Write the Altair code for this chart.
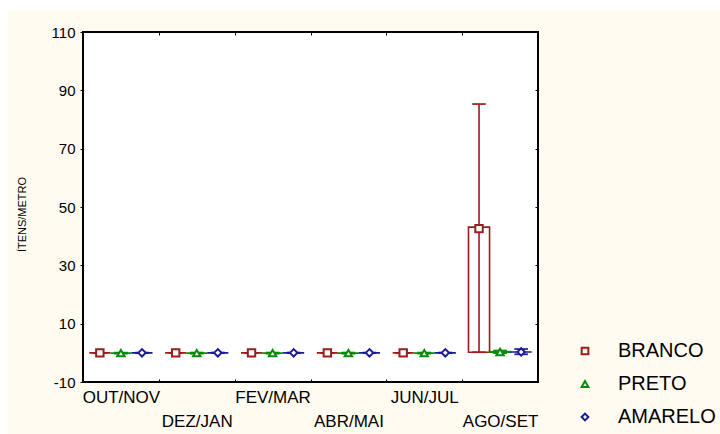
import altair as alt
import pandas as pd

categories = ["OUT/NOV", "DEZ/JAN", "FEV/MAR", "ABR/MAI", "JUN/JUL", "AGO/SET"]
series = ["BRANCO", "PRETO", "AMARELO"]
colors = ["#9B1C1C", "#0A8A0A", "#1A1A9A"]
shapes = ["square", "triangle-up", "diamond"]

# mean, box low/high, whisker low/high per category
branco_mean = [0.0, 0.0, 0.0, 0.0, 0.0, 42.6]
branco_box_lo = [0.0, 0.0, 0.0, 0.0, 0.0, 0.2]
branco_box_hi = [0.0, 0.0, 0.0, 0.0, 0.0, 43.1]
branco_wh_lo = [0.0, 0.0, 0.0, 0.0, 0.0, 0.2]
branco_wh_hi = [0.0, 0.0, 0.0, 0.0, 0.0, 85.3]

preto_mean = [-0.1, -0.1, -0.1, -0.1, -0.1, 0.3]
preto_box_lo = [-0.1, -0.1, -0.1, -0.1, -0.1, 0.2]
preto_box_hi = [-0.1, -0.1, -0.1, -0.1, -0.1, 0.4]
preto_wh_lo = [-0.3, -0.3, -0.3, -0.3, -0.3, -0.1]
preto_wh_hi = [0.1, 0.1, 0.1, 0.1, 0.1, 0.8]

amarelo_mean = [0.0, 0.0, 0.0, 0.0, 0.0, 0.3]
amarelo_box_lo = [0.0, 0.0, 0.0, 0.0, 0.0, 0.3]
amarelo_box_hi = [0.0, 0.0, 0.0, 0.0, 0.0, 0.3]
amarelo_wh_lo = [-0.1, -0.1, -0.1, -0.1, -0.1, -0.5]
amarelo_wh_hi = [0.1, 0.1, 0.1, 0.1, 0.1, 1.3]

tables = {
    "BRANCO": (branco_mean, branco_box_lo, branco_box_hi, branco_wh_lo, branco_wh_hi),
    "PRETO": (preto_mean, preto_box_lo, preto_box_hi, preto_wh_lo, preto_wh_hi),
    "AMARELO": (amarelo_mean, amarelo_box_lo, amarelo_box_hi, amarelo_wh_lo, amarelo_wh_hi),
}
rows = []
for s in series:
    m, bl, bh, wl, wh = tables[s]
    for i, c in enumerate(categories):
        rows.append({"cat": c, "serie": s, "mean": m[i], "blo": bl[i], "bhi": bh[i],
                     "wlo": wl[i], "whi": wh[i]})
df = pd.DataFrame(rows)

FONT = "Liberation Sans"
yvals = [-10, 10, 30, 50, 70, 90, 110]
yscale = alt.Scale(domain=[-10, 110], nice=False, zero=False)
xscale = alt.Scale(domain=categories, paddingInner=0, paddingOuter=0)
xoff = alt.XOffset("serie:N", scale=alt.Scale(domain=series, paddingInner=0, paddingOuter=0.3))
cscale = alt.Scale(domain=series, range=colors)
sscale = alt.Scale(domain=series, range=shapes)

label_expr = ("indexof(['DEZ/JAN','ABR/MAI','AGO/SET'], datum.value) >= 0 ? ['', datum.value] : datum.value")

x_bottom = alt.Axis(orient="bottom", offset=-3, domain=False, ticks=True, tickSize=3,
                    tickBand="extent", tickColor="black", labelPadding=7, labelAngle=0,
                    labelExpr=label_expr, labelFont=FONT, labelFontSize=17, labelColor="black",
                    labelLineHeight=24, title=None, grid=False)
y_left = alt.Axis(orient="left", values=yvals, domain=False, tickSize=3, tickColor="black",
                  labelPadding=5, labelFont=FONT, labelFontSize=15, labelColor="black",
                  labelExpr="replace(datum.label, '\u2212', '-')",
                  title="ÍTENS/METRO", titleFont=FONT, titleFontSize=11, titleFontWeight="normal",
                  titleColor="black", titleX=-61, titleY=182, titleAngle=270,
                  titleAlign="center", titleBaseline="middle", grid=False)
x_top = alt.Axis(orient="top", offset=-3, domain=False, labels=False, tickSize=3,
                 tickBand="extent", tickColor="black", title=None, grid=False)
y_right = alt.Axis(orient="right", offset=-3, values=yvals, domain=False, labels=False,
                   tickSize=3, tickColor="black", title=None, grid=False)

legend = alt.Legend(title=None, orient="none", legendX=492, legendY=309, padding=0,
                    labelFont=FONT, labelFontSize=20, labelColor="black", labelOffset=23,
                    symbolSize=45, symbolStrokeWidth=2, rowPadding=13, symbolOpacity=1,
                    symbolFillColor="#FFFBF0")

color_enc = alt.Color("serie:N", scale=cscale, legend=legend)
shape_enc = alt.Shape("serie:N", scale=sscale, legend=legend)

base = alt.Chart(df)

bars = base.mark_bar(filled=False, strokeWidth=1.6).encode(
    x=alt.X("cat:N", scale=xscale, axis=x_bottom),
    xOffset=xoff,
    y=alt.Y("blo:Q", scale=yscale, axis=y_left),
    y2="bhi:Q",
    color=color_enc,
)

rules = base.mark_rule(strokeWidth=1.6).encode(
    x=alt.X("cat:N", scale=xscale, axis=x_top),
    xOffset=xoff,
    y=alt.Y("wlo:Q", scale=yscale, axis=y_right),
    y2="whi:Q",
    color=color_enc,
)

tick_lo = base.mark_tick(size=12, thickness=0.1, filled=False, strokeWidth=1.6, opacity=1).encode(
    x=alt.X("cat:N", scale=xscale, axis=None),
    xOffset=xoff,
    y=alt.Y("wlo:Q", scale=yscale, axis=None),
    color=color_enc,
)
tick_hi = base.mark_tick(size=12, thickness=0.1, filled=False, strokeWidth=1.6, opacity=1).encode(
    x=alt.X("cat:N", scale=xscale, axis=None),
    xOffset=xoff,
    y=alt.Y("whi:Q", scale=yscale, axis=None),
    color=color_enc,
)

points = base.mark_point(filled=False, fill="white", size=55, strokeWidth=2, opacity=1).encode(
    x=alt.X("cat:N", scale=xscale, axis=None),
    xOffset=xoff,
    y=alt.Y("mean:Q", scale=yscale, axis=None),
    color=color_enc,
    shape=shape_enc,
)

one = pd.DataFrame({"k": [0]})
strip_top = alt.Chart(one).mark_rect(color="white").encode(
    x=alt.value(-83), x2=alt.value(637), y=alt.value(-32), y2=alt.value(-22))
strip_left = alt.Chart(one).mark_rect(color="white").encode(
    x=alt.value(-83), x2=alt.value(-75), y=alt.value(-32), y2=alt.value(402))

chart = alt.layer(strip_top, strip_left, bars, rules, tick_lo, tick_hi, points).resolve_axis(
    x="independent", y="independent"
).properties(
    width=455, height=350,
    autosize=alt.AutoSizeParams(type="none"),
    padding={"left": 83, "top": 32, "right": 182, "bottom": 52},
    background="#FFFBF0",
).configure_view(stroke="black", strokeWidth=2, fill="white")

chart.save("out.html", embed_options={"renderer": "svg", "actions": False})
